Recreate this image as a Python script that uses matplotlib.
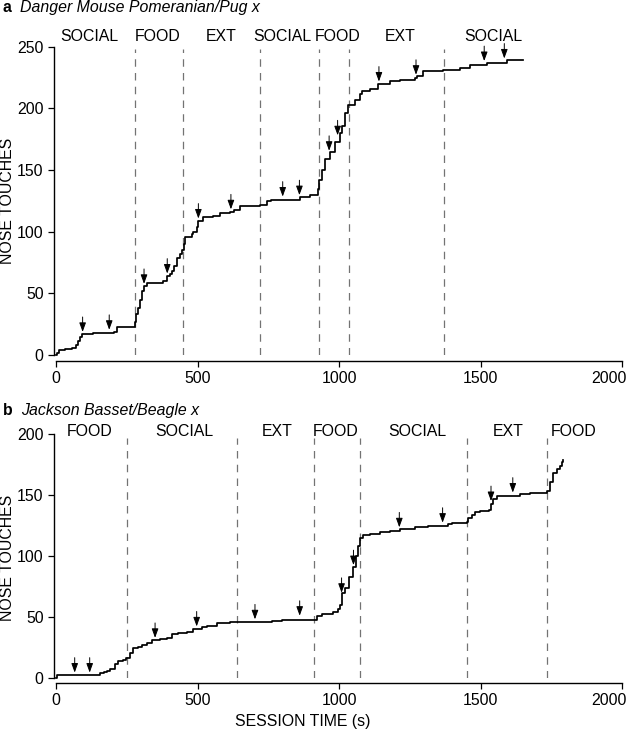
import matplotlib
matplotlib.use("Agg")
import matplotlib.pyplot as plt
import matplotlib.transforms as mtransforms
import numpy as np

plt.rcParams['font.family'] = ['Liberation Sans', 'DejaVu Sans']
FS = 11.4

# panel a: Danger Mouse, cumulative nose touches
a_time = [0, 5, 10, 30, 55, 70, 78, 85, 92, 132, 205, 214, 279, 284, 291, 297, 303, 311,
          320, 379, 391, 402, 409, 418, 426, 437, 444, 452, 456, 479, 485, 497, 503, 520,
          556, 579, 615, 628, 650, 721, 744, 760, 862, 898, 927, 930, 939, 951, 968, 986,
          1004, 1012, 1021, 1033, 1057, 1074, 1080, 1110, 1139, 1180, 1216, 1269, 1274,
          1298, 1369, 1428, 1463, 1522, 1592, 1651]
a_count = [0, 2, 4, 5, 6, 8, 11, 15, 17, 18, 19, 23, 27, 33, 38, 45, 52, 56,
           58, 60, 64, 66, 68, 72, 79, 82, 85, 90, 96, 98, 100, 104, 109, 112,
           113, 115, 116, 118, 121, 122, 125, 126, 128, 130, 135, 142, 150, 159, 165, 173,
           180, 186, 196, 203, 207, 212, 214, 216, 220, 222, 223, 225, 226,
           230, 231, 233, 235, 237, 239, 239]
a_arrows = [94, 188, 311, 393, 503, 618, 801, 860, 965, 995, 1141, 1272, 1513, 1584]
a_bounds = [280, 450, 720, 930, 1035, 1370]
a_phases = ['SOCIAL', 'FOOD', 'EXT', 'SOCIAL', 'FOOD', 'EXT', 'SOCIAL']
a_phase_x = [117, 359, 583, 800, 995, 1216, 1544]

# panel b: Jackson
b_time = [0, 5, 126, 155, 170, 181, 191, 208, 220, 238, 247, 261, 273, 290, 303, 320, 338,
          367, 391, 409, 432, 462, 485, 515, 532, 568, 615, 762, 797, 921, 939, 980, 998,
          1004, 1010, 1021, 1037, 1051, 1060, 1068, 1074, 1084, 1109, 1145, 1180, 1216,
          1269, 1316, 1386, 1398, 1451, 1457, 1469, 1481, 1498, 1531, 1536, 1545, 1557,
          1640, 1675, 1736, 1745, 1757, 1769, 1781, 1787, 1790]
b_count = [0, 3, 3, 4, 5, 6, 8, 12, 14, 15, 17, 21, 25, 26, 27, 29, 31,
           32, 33, 36, 37, 38, 40, 42, 43, 45, 46, 47, 48, 51, 53, 54, 57,
           60, 70, 74, 83, 91, 100, 108, 115, 117, 118, 120, 121, 122,
           124, 125, 126, 127, 128, 131, 134, 136, 137, 138, 143, 147, 149,
           151, 152, 153, 161, 168, 171, 174, 177, 179]
b_arrows = [66, 119, 350, 497, 703, 861, 1009, 1051, 1213, 1366, 1537, 1614]
b_bounds = [250, 640, 912, 1073, 1452, 1736]
b_phases = ['FOOD', 'SOCIAL', 'EXT', 'FOOD', 'SOCIAL', 'EXT', 'FOOD']
b_phase_x = [120, 455, 780, 989, 1277, 1596, 1830]

xticks = [0, 500, 1000, 1500, 2000]

fig = plt.figure(figsize=(6.28, 7.29), dpi=100)
ax1 = fig.add_axes([0.0892, 0.5130, 0.9013, 0.4229])
ax2 = fig.add_axes([0.0892, 0.0695, 0.9013, 0.3351])


def draw_panel(ax, t, c, arrows, bounds, phases, phase_x, ymax, vtop, label_y, bottom_out):
    ax.vlines(bounds, 0, vtop, colors='0.45', linestyles=(0, (6, 5)), linewidth=0.9)
    ax.plot(t, c, drawstyle='steps-post', color='black', lw=1.25, clip_on=False)
    for at in arrows:
        yv = np.interp(at, t, c)
        ax.annotate('', xy=(at, yv), xytext=(0, 17), textcoords='offset pixels',
                    arrowprops=dict(arrowstyle='-|>,head_length=0.55,head_width=0.2',
                                    color='black', lw=0.7, mutation_scale=10,
                                    shrinkA=0, shrinkB=1.5))
    for name, px in zip(phases, phase_x):
        ax.text(px, label_y, name, ha='center', va='baseline', fontsize=FS, clip_on=False)
    ax.set_xlim(0, 2000)
    ax.set_ylim(0, ymax)
    ax.set_xticks(xticks)
    ax.set_yticks(np.arange(0, ymax + 1, 50))
    for s in ['top', 'right']:
        ax.spines[s].set_visible(False)
    ax.spines['left'].set_position(('outward', 1.6))
    ax.spines['bottom'].set_position(('outward', bottom_out))
    ax.spines['left'].set_bounds(0, ymax)
    ax.spines['bottom'].set_bounds(0, 2000)
    for s in ['left', 'bottom']:
        ax.spines[s].set_linewidth(1.0)
    ax.tick_params(direction='out', length=4.3, width=0.9, labelsize=FS, pad=3)
    # keep the last x label inside the figure
    last = ax.get_xticklabels()[-1]
    last.set_horizontalalignment('right')
    last.set_transform(last.get_transform() +
                       mtransforms.ScaledTranslation(5 / 100, 0, fig.dpi_scale_trans))


draw_panel(ax1, a_time, a_count, a_arrows, a_bounds, a_phases, a_phase_x,
           250, 248, 254.4, 4.3)
draw_panel(ax2, b_time, b_count, b_arrows, b_bounds, b_phases, b_phase_x,
           200, 197, 198.4, 3.6)

# titles
fig.text(2.7 / 628, 1 - 12 / 729, 'a', weight='bold', fontsize=FS, va='baseline')
fig.text(20 / 628, 1 - 12 / 729, 'Danger Mouse Pomeranian/Pug x', style='italic',
         fontsize=FS, va='baseline')
fig.text(2.7 / 628, 1 - 415 / 729, 'b', weight='bold', fontsize=FS, va='baseline')
fig.text(20.7 / 628, 1 - 415 / 729, 'Jackson Basset/Beagle x', style='italic',
         fontsize=FS, va='baseline')

# axis labels
fig.text(8 / 628, 1 - 201 / 729, 'NOSE TOUCHES', rotation=90, ha='center', va='center',
         fontsize=FS)
fig.text(8 / 628, 1 - 558 / 729, 'NOSE TOUCHES', rotation=90, ha='center', va='center',
         fontsize=FS)
fig.text(303 / 628, 3 / 729, 'SESSION TIME (s)', ha='center', va='baseline', fontsize=FS)

fig.savefig('out.png', dpi=100)
